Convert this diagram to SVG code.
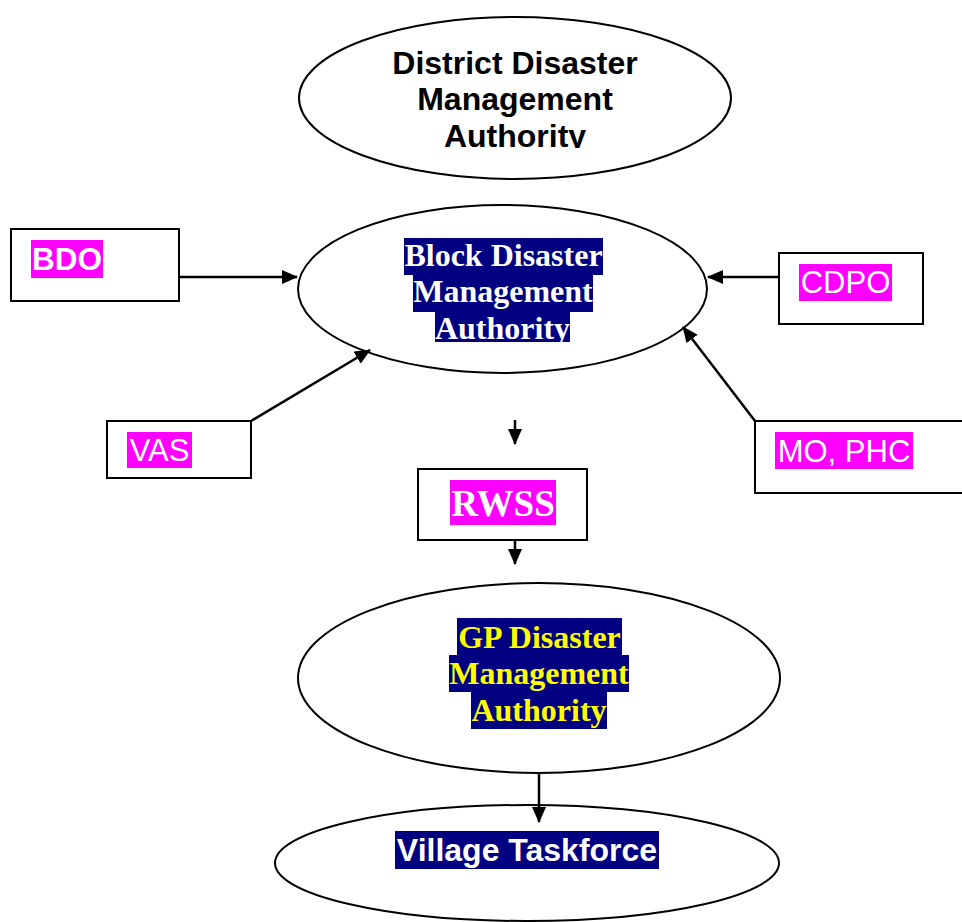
<svg xmlns="http://www.w3.org/2000/svg" width="962" height="922" viewBox="0 0 962 922">
<style>
.shape{fill:#fff;stroke:#000;stroke-width:2}
.conn{stroke:#000;stroke-width:2.5;fill:none}
.sans{font-family:"Liberation Sans",Arial,sans-serif}
.serif{font-family:"Liberation Serif","Times New Roman",serif;font-weight:bold}
.b{font-weight:bold}
.mag{fill:#ff00ff}
.navy{fill:#000080}
.w{fill:#fff}
.y{fill:#ffff00}
</style>
<defs>
<marker id="ah" markerUnits="userSpaceOnUse" markerWidth="16" markerHeight="14" refX="15" refY="7" orient="auto">
<path d="M0,0 L16,7 L0,14 Z" fill="#000"/>
</marker>
<clipPath id="clipD"><rect x="0" y="0" width="962" height="148"/></clipPath>
<clipPath id="clipB"><rect x="0" y="200" width="962" height="142"/></clipPath>
</defs>
<g id="district">
<ellipse class="shape" cx="515" cy="98" rx="216" ry="81"/>
<g clip-path="url(#clipD)">
<text class="sans b" font-size="32" text-anchor="middle" x="515" y="74">District Disaster</text>
<text class="sans b" font-size="32" text-anchor="middle" x="515" y="110">Management</text>
<text class="sans b" font-size="32" text-anchor="middle" x="515" y="147">Authority</text>
</g>
</g>
<g id="block">
<ellipse class="shape" cx="502.5" cy="289" rx="204.5" ry="84"/>
<g clip-path="url(#clipB)">
<rect class="navy" x="404" y="238" width="199" height="37"/>
<rect class="navy" x="413" y="275" width="180" height="37"/>
<rect class="navy" x="435" y="312" width="135" height="37"/>
<text class="serif w" font-size="32" text-anchor="middle" x="503.5" y="266">Block Disaster</text>
<text class="serif w" font-size="32" text-anchor="middle" x="503" y="302">Management</text>
<text class="serif w" font-size="32" text-anchor="middle" x="502.5" y="339">Authority</text>
</g>
</g>
<g id="bdo">
<rect class="shape" x="11" y="229" width="168" height="72"/>
<rect class="mag" x="31" y="240" width="72" height="38"/>
<text class="sans b w" font-size="31.5" text-anchor="middle" x="67" y="270">BDO</text>
</g>
<g id="cdpo">
<rect class="shape" x="779" y="253" width="144" height="71"/>
<rect class="mag" x="799" y="264" width="93" height="37"/>
<text class="sans w" font-size="31" text-anchor="middle" x="845.5" y="293">CDPO</text>
</g>
<g id="vas">
<rect class="shape" x="107" y="421" width="144" height="57"/>
<rect class="mag" x="127" y="432" width="65" height="36"/>
<text class="sans w" font-size="31" text-anchor="middle" x="159.5" y="461">VAS</text>
</g>
<g id="mophc">
<rect class="shape" x="755" y="421" width="220" height="72"/>
<rect class="mag" x="775" y="432" width="138" height="37"/>
<text class="sans w" font-size="31" text-anchor="middle" x="844" y="462">MO, PHC</text>
</g>
<g id="rwss">
<rect class="shape" x="418" y="469" width="169" height="71"/>
<rect class="mag" x="450" y="480" width="106" height="45"/>
<text class="serif w" font-size="37" text-anchor="middle" x="503" y="516">RWSS</text>
</g>
<g id="gp">
<ellipse class="shape" cx="539" cy="678" rx="241" ry="95"/>
<rect class="navy" x="457" y="618" width="165" height="37"/>
<rect class="navy" x="449" y="655" width="180" height="37"/>
<rect class="navy" x="471" y="692" width="136" height="37"/>
<text class="serif y" font-size="32" text-anchor="middle" x="539.5" y="648">GP Disaster</text>
<text class="serif y" font-size="32" text-anchor="middle" x="539" y="684">Management</text>
<text class="serif y" font-size="32" text-anchor="middle" x="539" y="721">Authority</text>
</g>
<g id="village">
<ellipse class="shape" cx="527" cy="863" rx="252" ry="58"/>
<rect class="navy" x="395" y="831" width="264" height="38"/>
<text class="sans b w" font-size="32" text-anchor="middle" x="527" y="861">Village Taskforce</text>
</g>
<g id="connectors">
<line class="conn" x1="179" y1="277" x2="297" y2="277" marker-end="url(#ah)"/>
<line class="conn" x1="779" y1="277" x2="708" y2="277" marker-end="url(#ah)"/>
<line class="conn" x1="251" y1="421" x2="370" y2="350" marker-end="url(#ah)"/>
<line class="conn" x1="755" y1="421" x2="683" y2="327" marker-end="url(#ah)"/>
<line class="conn" x1="515" y1="420" x2="515" y2="444" marker-end="url(#ah)"/>
<line class="conn" x1="515" y1="540" x2="515" y2="564" marker-end="url(#ah)"/>
<line class="conn" x1="539" y1="773" x2="539" y2="822" marker-end="url(#ah)"/>
</g>
</svg>
